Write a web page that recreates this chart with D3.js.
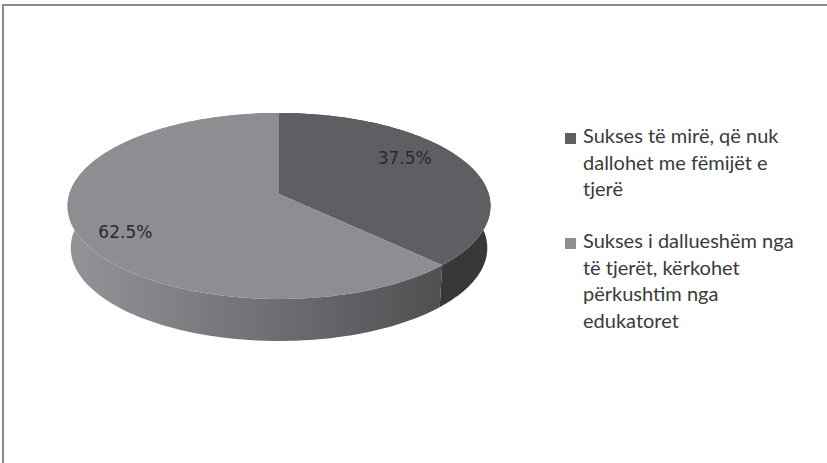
<!DOCTYPE html>
<html>
<head>
<meta charset="utf-8">
<script src="https://cdn.jsdelivr.net/npm/d3@7/dist/d3.min.js"></script>
<style>
  html, body { margin: 0; padding: 0; background: #fff; }
  svg { display: block; }
</style>
</head>
<body>
<svg id="chart" width="827" height="463"></svg>
<script>
'use strict'

// data
var categories = [
  "Sukses të mirë, që nuk dallohet me fëmijët e tjerë",
  "Sukses i dallueshëm nga të tjerët, kërkohet përkushtim nga edukatoret"
];
var legendLines = [
  ["Sukses të mirë, që nuk", "dallohet me fëmijët e", "tjerë"],
  ["Sukses i dallueshëm nga", "të tjerët, kërkohet", "përkushtim nga", "edukatoret"]
];
var values = [37.5, 62.5];
var labels = ["37.5%", "62.5%"];

var width = 827,
    height = 463,
    cx = 279, cy = 194,      // projected pie centre
    sx = 209.7, sy = 91.45,  // radii of the tilted disc
    persp = 0.129,           // perspective strength
    depth = 42;

var topColor = ["#5f5f63", "#8d8e92"],
    sideFrom = ["#434346", "#939498"],
    sideTo = ["#37373a", "#47474a"];

var svg = d3.select("#chart");

// frame
svg.append("path")
    .attr("d", "M3,463 V5 H827")
    .attr("fill", "none")
    .attr("stroke", "#8a8a8a")
    .attr("stroke-width", 2);

var pie = d3.pie().sort(null).startAngle(0).endAngle(2 * Math.PI);
var arcs = pie(values);

// angle measured clockwise from 12 o'clock, r in unit radius
function proj(a, r) {
  var u = r * Math.sin(a), v = -r * Math.cos(a), w = 1 - persp * v;
  return [cx + sx * u / w, cy + sy * v / w];
}

function arcPoints(a0, a1, r) {
  var n = Math.max(2, Math.ceil((a1 - a0) / 0.02));
  return d3.range(n + 1).map(function(i) { return proj(a0 + (a1 - a0) * i / n, r); });
}

var line = d3.line().curve(d3.curveLinear);

var defs = svg.append("defs");
arcs.forEach(function(d, i) {
  var g = defs.append("linearGradient")
      .attr("id", "side" + i)
      .attr("gradientUnits", "userSpaceOnUse")
      .attr("x1", cx - sx).attr("x2", cx + sx)
      .attr("y1", 0).attr("y2", 0);
  g.append("stop").attr("offset", "0%").attr("stop-color", sideFrom[i]);
  g.append("stop").attr("offset", "100%").attr("stop-color", sideTo[i]);
});

// side walls
svg.append("g").selectAll("path")
  .data(arcs)
  .enter().append("path")
    .attr("d", function(d) {
      var top = arcPoints(d.startAngle, d.endAngle, 1);
      var bottom = top.map(function(p) {
        return [cx + (p[0] - cx) * 0.985, p[1] + depth];
      }).reverse();
      return line(top.concat(bottom)) + "Z";
    })
    .attr("fill", function(d, i) { return "url(#side" + i + ")"; });

// top faces
svg.append("g").selectAll("path")
  .data(arcs)
  .enter().append("path")
    .attr("d", function(d) {
      return line([[cx, cy]].concat(arcPoints(d.startAngle, d.endAngle, 1))) + "Z";
    })
    .attr("fill", function(d, i) { return topColor[i]; });

// data labels
svg.append("g").selectAll("text")
  .data(arcs)
  .enter().append("text")
    .attr("transform", function(d) {
      var mid = (d.startAngle + d.endAngle) / 2;
      var p = proj(mid, 0.72);
      var v = -Math.cos(mid);
      return "translate(" + (p[0] - 9) + "," + (p[1] + 6 + v * 30) + ")";
    })
    .attr("text-anchor", "middle")
    .attr("font-family", "DejaVu Sans")
    .attr("font-size", 17)
    .attr("fill", "#2a2a2a")
    .text(function(d, i) { return labels[i]; });

// legend
var legendY = [143, 248], lineGap = 26.5;
var legend = svg.append("g").selectAll("g")
  .data(categories)
  .enter().append("g")
    .attr("transform", function(d, i) { return "translate(565," + legendY[i] + ")"; });

legend.append("rect")
    .attr("x", 0).attr("y", -10)
    .attr("width", 11).attr("height", 11)
    .attr("fill", function(d, i) { return topColor[i]; });

legend.append("text")
    .attr("x", 18)
    .attr("font-family", "Lato")
    .attr("font-size", 20)
    .attr("fill", "#3a3a3a")
    .selectAll("tspan")
    .data(function(d, i) { return legendLines[i]; })
    .enter().append("tspan")
      .attr("x", 18)
      .attr("y", function(d, j) { return j * lineGap; })
      .text(function(d) { return d; });
</script>
</body>
</html>
